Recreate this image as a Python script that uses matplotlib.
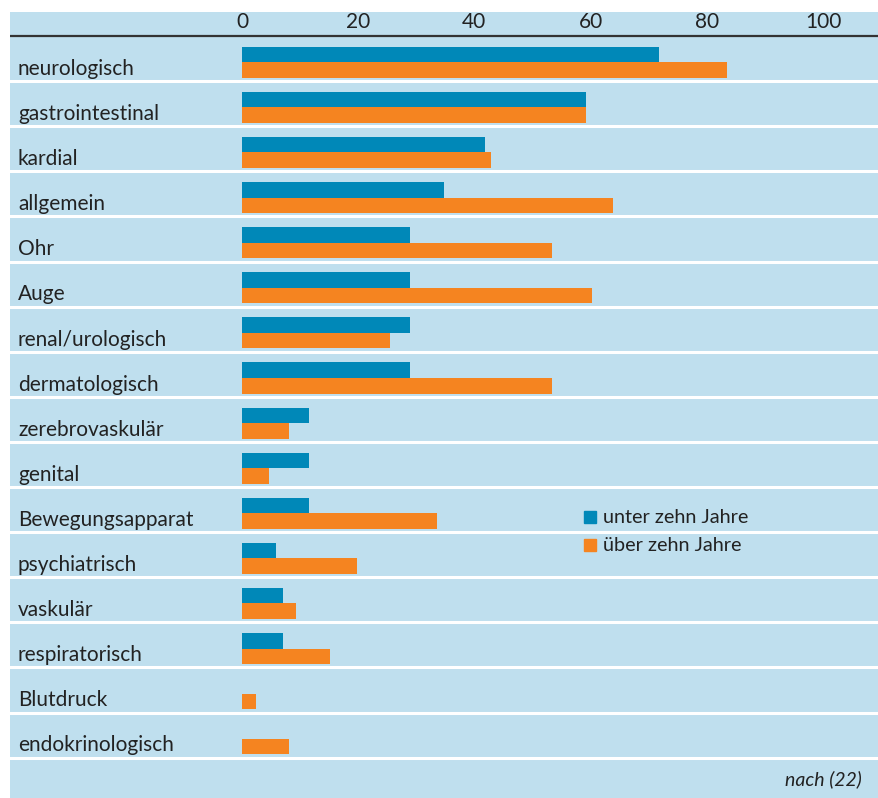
import matplotlib
matplotlib.use("Agg")
import matplotlib.pyplot as plt
from matplotlib.patches import Rectangle

categories = ["neurologisch", "gastrointestinal", "kardial", "allgemein", "Ohr", "Auge",
              "renal/urologisch", "dermatologisch", "zerebrovaskulär", "genital",
              "Bewegungsapparat", "psychiatrisch", "vaskulär", "respiratorisch",
              "Blutdruck", "endokrinologisch"]
unter_zehn = [71.8, 59.2, 41.8, 34.8, 28.9, 28.9, 28.9, 28.9, 11.5, 11.5, 11.5, 5.9, 7.1, 7.1, 0, 0]
ueber_zehn = [83.5, 59.2, 42.9, 63.9, 53.4, 60.2, 25.5, 53.4, 8.1, 4.6, 33.6, 19.8, 9.3, 15.1, 2.4, 8.1]
ticks = [0, 20, 40, 60, 80, 100]
series_names = ["unter zehn Jahre", "über zehn Jahre"]
source_note = "nach (22)"

BLUE = "#0088b8"
ORANGE = "#f58420"
BG = "#bfdfee"
TXT = "#222222"

plt.rcParams['font.family'] = ['Lato', 'DejaVu Sans']

W, H = 879, 798
fig = plt.figure(figsize=(W / 100, H / 100), dpi=100)
fig.patch.set_facecolor("white")

# panel in pixels: left 10, right 879, top 12, bottom 798
px_left, px_right, px_top, px_bot = 10, 879, 12, 798
ax = fig.add_axes([px_left / W, 0, (px_right - px_left) / W, (H - px_top) / H])
ax.set_facecolor(BG)

x0_px, unit_px = 242, 5.81
row_px, row0_px = 45.1, 36
ax.set_xlim((px_left - x0_px) / unit_px, (px_right - x0_px) / unit_px)
ax.set_ylim((px_bot - row0_px) / row_px, (px_top - row0_px) / row_px)
for s in ax.spines.values():
    s.set_visible(False)
ax.set_xticks([])
ax.set_yticks([])

n = len(categories)
bar_h = 0.345
blue_c = [i + 0.41 for i in range(n)]
orange_c = [i + 0.755 for i in range(n)]
ax.barh(blue_c, unter_zehn, height=bar_h, color=BLUE, zorder=3)
ax.barh(orange_c, ueber_zehn, height=bar_h, color=ORANGE, zorder=3)

# row separators
for i in range(1, n + 1):
    ax.axhline(i, color="white", lw=2.2, zorder=2)
ax.axhline(0, color="#333333", lw=1.6, zorder=4)

xmin = ax.get_xlim()[0]
for i, c in enumerate(categories):
    ax.text(xmin + 8 / unit_px, i + 0.73, c, fontsize=15, color=TXT,
            va="center", ha="left", zorder=5)

for t in ticks:
    ax.text(t, -0.31, str(t), fontsize=15, color=TXT, ha="center", va="center")

# legend
for k, (name, col) in enumerate(zip(series_names, [BLUE, ORANGE])):
    yc = 10.67 + k * 0.62
    ax.add_patch(Rectangle((59.9 - 1.0, yc - 0.13), 2.0, 0.26, color=col, zorder=5))
    ax.text(62.1, yc, name, fontsize=14.3, color=TXT, ha="left", va="center", zorder=5)

ax.text(106.7, 16.49, source_note, fontsize=14, style="italic", color=TXT,
        ha="right", va="center")

fig.savefig("out.png", dpi=100, facecolor=fig.get_facecolor())
